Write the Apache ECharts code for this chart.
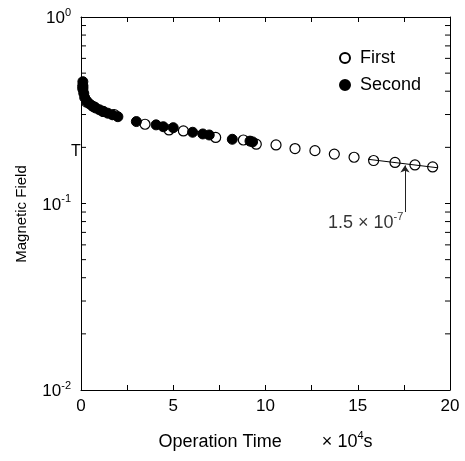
<!DOCTYPE html>
<html><head><meta charset="utf-8">
<script src="https://cdn.jsdelivr.net/npm/echarts@6/dist/echarts.min.js"></script>
<style>html,body{margin:0;padding:0;background:#fff}#c{width:465px;height:461px}</style>
</head><body><div id="c"></div>
<script>
// ---- data ----
const firstX = [0.1, 0.3, 0.7, 1.2, 1.8, 3.47, 4.77, 5.55, 7.3, 8.8, 9.5, 10.57, 11.6, 12.68, 13.73, 14.8, 15.86, 17.02, 18.1, 19.06];
const firstY = [0.42, 0.35, 0.33, 0.312, 0.30, 0.266, 0.248, 0.245, 0.226, 0.219, 0.208, 0.206, 0.197, 0.192, 0.184, 0.177, 0.170, 0.166, 0.161, 0.157];
const secondX = [0.1, 0.1, 0.1, 0.15, 0.2, 0.3, 0.45, 0.6, 0.8, 1.0, 1.2, 1.45, 1.7, 2.0, 3.0, 4.07, 4.46, 5.0, 6.05, 6.6, 6.95, 8.2, 9.16, 9.3];
const secondY = [0.45, 0.43, 0.41, 0.39, 0.37, 0.355, 0.343, 0.334, 0.325, 0.318, 0.311, 0.305, 0.299, 0.292, 0.275, 0.264, 0.258, 0.255, 0.241, 0.236, 0.233, 0.221, 0.216, 0.214];
const fitX = [15.56, 19.3];
const fitY = [0.1726, 0.1556];
const arrowX = [17.56, 17.56];
const arrowY = [0.090, 0.160];
const noteX = 13.39, noteY = 0.0796;
const xTickLabels = [0, 5, 10, 15, 20];
const yMinorTicks = [0.02,0.03,0.04,0.05,0.06,0.07,0.08,0.09,0.2,0.3,0.4,0.5,0.6,0.7,0.8,0.9];

// ---- chart ----
const FONT = '"Liberation Sans", Arial, sans-serif';
const zip = (a, b) => a.map((v, i) => [v, b[i]]);
const chart = echarts.init(document.getElementById('c'));
const supRich = (big, small, raise) => ({
  b: {fontSize: big, fontFamily: FONT, color: '#000', verticalAlign: 'bottom'},
  s: {fontSize: small, fontFamily: FONT, color: '#000', verticalAlign: 'bottom', padding: [0, 0, raise, 0]},
  g: {width: 40}
});
const black = {color: '#000', width: 1};
const xBase = {
  type: 'value', min: 0, max: 20, interval: 5,
  axisLine: {show: true, onZero: false, lineStyle: black},
  axisTick: {show: true, inside: true, length: 5, lineStyle: black},
  minorTick: {show: true, splitNumber: 2, length: 5, lineStyle: black},
  splitLine: {show: false}
};
const yBase = {
  type: 'log', logBase: 10, min: 0.01, max: 1,
  axisLine: {show: true, onZero: false, lineStyle: black},
  axisTick: {show: true, inside: true, length: 5, lineStyle: black},
  splitLine: {show: false}
};
chart.setOption({
  animation: false,
  backgroundColor: '#fff',
  grid: {left: 81, right: 15, top: 17, bottom: 71},
  xAxis: [
    Object.assign({}, xBase, {
      position: 'bottom',
      axisLabel: {fontSize: 17, color: '#000', fontFamily: FONT, margin: 8,
        formatter: v => xTickLabels.includes(v) ? String(v) : ''},
      name: '{b|Operation Time}{g|}{b|× 10}{s|4}{b|s}',
      nameLocation: 'middle', nameGap: 40,
      nameTextStyle: {rich: supRich(18, 11, 10)}
    }),
    Object.assign({}, xBase, {position: 'top', axisLabel: {show: false}})
  ],
  yAxis: [
    Object.assign({}, yBase, {
      position: 'left',
      axisLabel: {margin: 10, formatter: v => '{b|10}{s|' + Math.round(Math.log10(v)) + '}', rich: supRich(17, 11, 9)},
      name: 'Magnetic Field', nameLocation: 'middle', nameGap: 52,
      nameTextStyle: {fontSize: 15, fontFamily: FONT, color: '#000', padding: [0, 21, 0, 0]}
    }),
    Object.assign({}, yBase, {position: 'right', axisLabel: {show: false}})
  ],
  legend: {
    data: ['First', 'Second'], orient: 'vertical', left: 334, top: 44,
    itemWidth: 20, itemHeight: 10, itemGap: 9,
    textStyle: {fontSize: 18, fontFamily: FONT, color: '#000'}
  },
  graphic: [{type: 'text', left: 71, top: 144, style: {text: 'T', fontSize: 16, fontFamily: FONT, fill: '#000'}}],
  series: [
    {name: 'First', type: 'scatter', data: zip(firstX, firstY), symbol: 'circle', symbolSize: 10,
      itemStyle: {color: '#fff', borderColor: '#000', borderWidth: 1.2, opacity: 1}, z: 2},
    {name: 'Second', type: 'scatter', data: zip(secondX, secondY), symbol: 'circle', symbolSize: 10,
      itemStyle: {color: '#000', borderColor: '#000', borderWidth: 1, opacity: 1}, z: 3},
    {name: 'fit', type: 'line', data: zip(fitX, fitY), symbol: 'none', lineStyle: {color: '#000', width: 1}, z: 4},
    {name: 'arrow', type: 'lines', coordinateSystem: 'cartesian2d', symbol: ['none', 'arrow'], symbolSize: 7,
      data: [{coords: zip(arrowX, arrowY)}], lineStyle: {color: '#222', width: 1, opacity: 1}, z: 4},
    {name: 'note', type: 'scatter', data: [[noteX, noteY]], symbolSize: 0, silent: true,
      label: {show: true, position: 'right', distance: 0,
        formatter: '{b|1.5 × 10}{s|-7}', rich: supRich(18, 11, 10)}},
    {name: 'minor', type: 'custom', data: yMinorTicks.map(v => [0, v]), silent: true, z: 5,
      renderItem: (params, api) => {
        const v = api.value(1);
        const l = api.coord([0, v]);
        const r = api.coord([20, v]);
        const st = {stroke: '#000', lineWidth: 1};
        return {type: 'group', children: [
          {type: 'line', shape: {x1: l[0], y1: l[1], x2: l[0] + 5, y2: l[1]}, style: st},
          {type: 'line', shape: {x1: r[0], y1: r[1], x2: r[0] - 5, y2: r[1]}, style: st}
        ]};
      }}
  ]
});
</script></body></html>
